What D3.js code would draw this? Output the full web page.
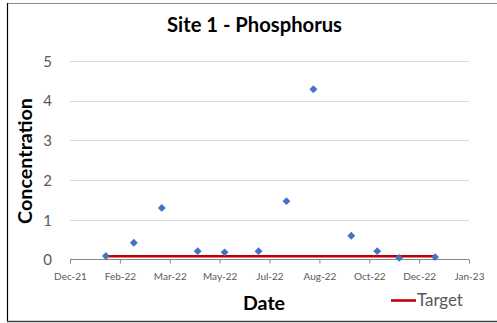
<!DOCTYPE html>
<html>
<head>
<meta charset="utf-8">
<script src="https://cdn.jsdelivr.net/npm/d3@7"></script>
<style>
  html, body { margin: 0; padding: 0; background: #fff; }
  svg { display: block; }
  text { font-family: Lato, "Open Sans", sans-serif; }
</style>
</head>
<body>
<svg id="chart" width="497" height="323"></svg>
<script>
// Sample dates and measured phosphorus concentrations
const sampleDates = ["2022-01-25", "2022-02-22", "2022-03-22", "2022-04-27", "2022-05-24", "2022-06-27",
                     "2022-07-25", "2022-08-21", "2022-09-28", "2022-10-24", "2022-11-15", "2022-12-21"];
const concentrations = [0.09, 0.42, 1.3, 0.21, 0.18, 0.21, 1.47, 4.29, 0.6, 0.21, 0.04, 0.06];

// Target level across the sampling period
const targetDates = ["2022-01-25", "2022-12-21"];
const targetValues = [0.08, 0.08];

// Axis ticks (dates every 50 days starting 20 Dec 2021)
const xTickDates = ["2021-12-20", "2022-02-08", "2022-03-30", "2022-05-19", "2022-07-08",
                    "2022-08-27", "2022-10-16", "2022-12-05", "2023-01-24"];
const yTicks = [0, 1, 2, 3, 4, 5];

const parse = d3.utcParse("%Y-%m-%d");
const fmt = d3.utcFormat("%b-%y");

const svg = d3.select("#chart");

// chart frame
svg.append("rect").attr("x", 7.5).attr("y", 3.5).attr("width", 496).attr("height", 318)
  .attr("fill", "#fff").attr("stroke", "#8c8c8c").attr("stroke-width", 1);
svg.append("line").attr("x1", 7.5).attr("x2", 7.5).attr("y1", 3).attr("y2", 322)
  .attr("stroke", "#000").attr("stroke-width", 1.2);
svg.append("line").attr("x1", 7).attr("x2", 497).attr("y1", 321.5).attr("y2", 321.5)
  .attr("stroke", "#444").attr("stroke-width", 1.5);

const x = d3.scaleUtc()
  .domain([parse(xTickDates[0]), parse(xTickDates[xTickDates.length - 1])])
  .range([70, 469]);
const y = d3.scaleLinear().domain([0, 5]).range([259.5, 61]);

// horizontal gridlines
svg.append("g").selectAll("line").data(yTicks.filter(d => d > 0)).join("line")
  .attr("x1", x.range()[0]).attr("x2", x.range()[1])
  .attr("y1", d => Math.round(y(d)) + 0.5).attr("y2", d => Math.round(y(d)) + 0.5)
  .attr("stroke", "#d9d9d9").attr("stroke-width", 1);

// y axis labels
const yAxis = d3.axisLeft(y).tickValues(yTicks).tickSize(0).tickPadding(0).tickFormat(d3.format("d"));
const gy = svg.append("g").attr("transform", "translate(52,0)").call(yAxis);
gy.select(".domain").remove();
gy.selectAll("text").attr("fill", "#595959").attr("font-size", 15)
  .style("font-family", "Lato, sans-serif").attr("dy", "0.35em");

// x axis
const xAxis = d3.axisBottom(x).tickValues(xTickDates.map(parse)).tickFormat(fmt)
  .tickSize(4).tickPadding(9);
const gx = svg.append("g").attr("transform", `translate(0,${y(0)})`).call(xAxis);
gx.select(".domain").attr("stroke", "#868686").attr("d", `M${x.range()[0]},0H${x.range()[1]}`);
gx.selectAll(".tick line").attr("stroke", "#868686");
gx.selectAll("text").attr("fill", "#595959").attr("font-size", 10)
  .style("font-family", "Lato, sans-serif");

// target line
const targetPts = targetDates.map((d, i) => [parse(d), targetValues[i]]);
svg.append("path").datum(targetPts)
  .attr("d", d3.line().x(d => x(d[0])).y(d => y(d[1])))
  .attr("fill", "none").attr("stroke", "#c00000").attr("stroke-width", 2.6);

// sample markers (diamonds)
const diamond = d3.symbol().type(d3.symbolDiamond2).size(40);
svg.append("g").selectAll("path")
  .data(sampleDates.map((d, i) => [parse(d), concentrations[i]]))
  .join("path")
  .attr("transform", d => `translate(${x(d[0])},${y(d[1])})`)
  .attr("d", diamond)
  .attr("fill", "#4472c4");

// scale text to a given width
function fit(sel, width) {
  const w = sel.node().getComputedTextLength();
  const fs = parseFloat(sel.attr("font-size"));
  sel.attr("font-size", fs * width / w);
}

// title
const title = svg.append("text").attr("x", 254.5).attr("y", 32).attr("text-anchor", "middle")
  .attr("font-size", 18).attr("font-weight", "bold").attr("fill", "#000")
  .text("Site 1 - Phosphorus");
fit(title, 175);

// axis titles
const yTitle = svg.append("text")
  .attr("transform", "translate(32,161) rotate(-90)")
  .attr("text-anchor", "middle").attr("font-size", 17).attr("font-weight", "bold").attr("fill", "#000")
  .text("Concentration");
fit(yTitle, 126);

const xTitle = svg.append("text").attr("x", 264).attr("y", 310).attr("text-anchor", "middle")
  .attr("font-size", 18).attr("font-weight", "bold").attr("fill", "#000")
  .text("Date");
fit(xTitle, 42);

// legend
svg.append("line").attr("x1", 391).attr("x2", 416).attr("y1", 300.5).attr("y2", 300.5)
  .attr("stroke", "#c00000").attr("stroke-width", 2.6);
const lt = svg.append("text").attr("x", 417).attr("y", 306).attr("font-size", 14).attr("fill", "#595959")
  .text("Target");
fit(lt, 46);
</script>
</body>
</html>
